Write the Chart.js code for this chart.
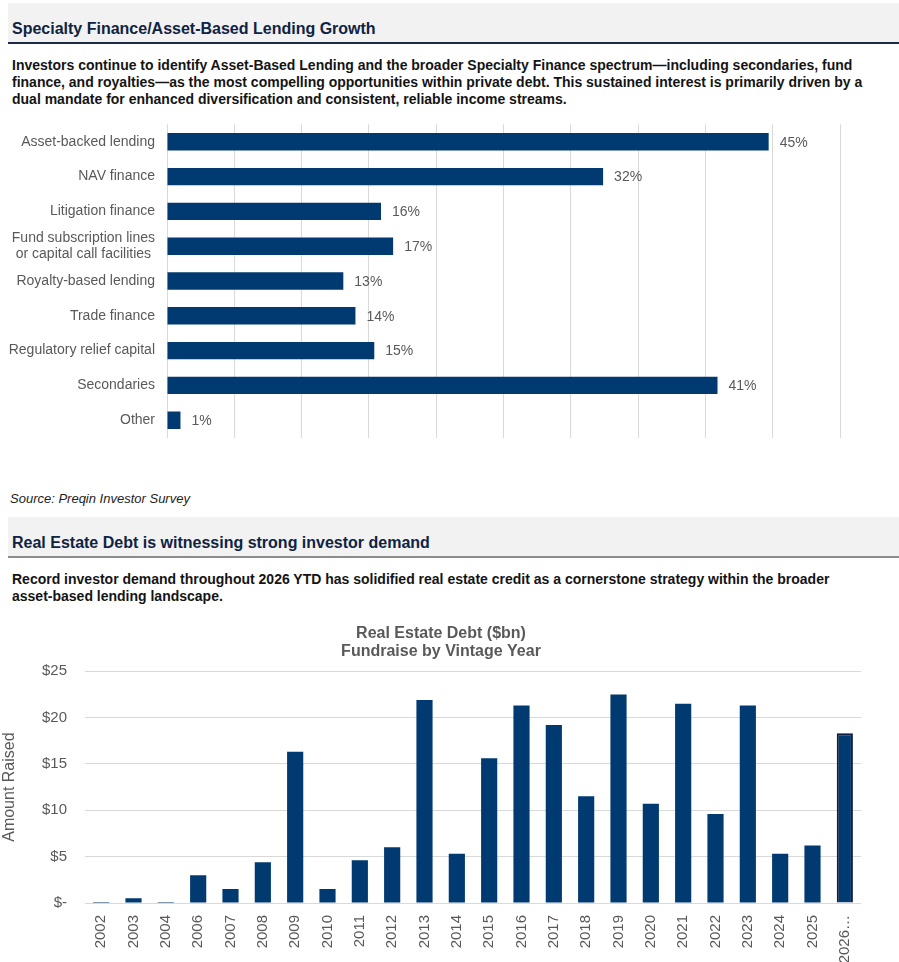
<!DOCTYPE html>
<html>
<head>
<meta charset="utf-8">
<script src="https://cdn.jsdelivr.net/npm/chart.js@4/dist/chart.umd.min.js"></script>
<style>
  body { margin: 0; background: #fff; font-family: 'Liberation Sans', Arial, sans-serif; }
  .page { position: relative; width: 899px; height: 962px; overflow: hidden; }
  .band { position: absolute; left: 8px; width: 891px; background: #f2f2f2; }
  .band h2 { position: absolute; left: 4px; margin: 0; font-size: 16px; line-height: 18px; font-weight: bold; color: #0f2342; white-space: nowrap; }
  .para { position: absolute; left: 12px; font-size: 14px; line-height: 17px; font-weight: bold; color: #141414; white-space: nowrap; }
  .source { position: absolute; left: 10px; top: 491px; font-size: 13px; line-height: 16px; font-style: italic; color: #222; }
  canvas { position: absolute; left: 0; }
</style>
</head>
<body>
<div class="page">
  <div class="band" style="top:3px;height:39px;border-bottom:2px solid #1c2a47;">
    <h2 style="top:17px;">Specialty Finance/Asset-Based Lending Growth</h2>
  </div>
  <div class="para" style="top:57px;">
    Investors continue to identify Asset-Based Lending and the broader Specialty Finance spectrum—including secondaries, fund<br>
    finance, and royalties—as the most compelling opportunities within private debt. This sustained interest is primarily driven by a<br>
    dual mandate for enhanced diversification and consistent, reliable income streams.
  </div>
  <div style="position:absolute;left:0;top:104px;width:899px;height:354px;">
    <canvas id="surveyChart"></canvas>
  </div>
  <div class="source">Source: Preqin Investor Survey</div>
  <div class="band" style="top:517px;height:39px;border-bottom:2px solid #8c8c8c;">
    <h2 style="top:17px;">Real Estate Debt is witnessing strong investor demand</h2>
  </div>
  <div class="para" style="top:571px;">
    Record investor demand throughout 2026 YTD has solidified real estate credit as a cornerstone strategy within the broader<br>
    asset-based lending landscape.
  </div>
  <div style="position:absolute;left:0;top:612px;width:882px;height:350px;">
    <canvas id="vintageChart"></canvas>
  </div>
</div>

<script>
const strategies = [
  'Asset-backed lending',
  'NAV finance',
  'Litigation finance',
  ['Fund subscription lines', 'or capital call facilities '],
  'Royalty-based lending',
  'Trade finance',
  'Regulatory relief capital',
  'Secondaries',
  'Other',
];
const strategyShares = [44.7, 32.4, 15.9, 16.8, 13.1, 14.0, 15.4, 40.9, 1.0];

const vintageYears = ['2002', '2003', '2004', '2006', '2007', '2008', '2009', '2010', '2011', '2012', '2013', '2014',
  '2015', '2016', '2017', '2018', '2019', '2020', '2021', '2022', '2023', '2024', '2025', '2026…'];
const amountRaised = [0.1, 0.5, 0.1, 3.0, 1.5, 4.4, 16.3, 1.5, 4.6, 6.0, 21.9, 5.3,
  15.6, 21.3, 19.2, 11.5, 22.5, 10.7, 21.5, 9.6, 21.3, 5.3, 6.2, 18.3];

const NAVY = '#003a70';
const GREY_TEXT = '#595959';
const GRID = '#d9d9d9';
const FONT = "'Liberation Sans', Arial, sans-serif";

Chart.defaults.font.family = FONT;
Chart.defaults.color = GREY_TEXT;
Chart.defaults.animation = false;

// value labels to the right of each horizontal bar
const barValueLabels = {
  id: 'barValueLabels',
  afterDatasetsDraw(chart) {
    const ctx = chart.ctx;
    const meta = chart.getDatasetMeta(0);
    ctx.save();
    ctx.font = `14px ${FONT}`;
    ctx.fillStyle = GREY_TEXT;
    ctx.textAlign = 'left';
    ctx.textBaseline = 'middle';
    meta.data.forEach((bar, i) => {
      ctx.fillText(Math.round(chart.data.datasets[0].data[i]) + '%', bar.x + 11, bar.y + 1);
    });
    ctx.restore();
  },
};

new Chart(document.getElementById('surveyChart'), {
  type: 'bar',
  data: {
    labels: strategies,
    datasets: [{
      data: strategyShares,
      backgroundColor: NAVY,
      barPercentage: 0.5,
      categoryPercentage: 1,
    }],
  },
  options: {
    indexAxis: 'y',
    responsive: true,
    maintainAspectRatio: false,
    layout: { padding: { top: 0, right: 59, bottom: 0, left: 0 } },
    plugins: { legend: { display: false }, tooltip: { enabled: false } },
    scales: {
      x: {
        min: 0,
        max: 50,
        ticks: { display: false, stepSize: 5 },
        grid: { color: GRID, drawTicks: false },
        border: { display: false },
        afterFit: scale => { scale.height = 0; },
      },
      y: {
        grid: { display: false, drawTicks: false },
        border: { display: false },
        ticks: { color: GREY_TEXT, font: { size: 14 }, padding: 12 },
        afterFit: scale => { scale.width = 167; },
      },
    },
  },
  plugins: [barValueLabels],
});

const lastIdx = amountRaised.length - 1;

new Chart(document.getElementById('vintageChart'), {
  type: 'bar',
  data: {
    labels: vintageYears,
    datasets: [{
      data: amountRaised,
      backgroundColor: NAVY,
      borderColor: amountRaised.map((_, i) => (i === lastIdx ? '#0b1f3a' : NAVY)),
      borderWidth: amountRaised.map((_, i) => (i === lastIdx ? 2 : 0)),
      barPercentage: 0.5,
      categoryPercentage: 1,
    }],
  },
  options: {
    responsive: true,
    maintainAspectRatio: false,
    layout: { padding: 0 },
    plugins: {
      legend: { display: false },
      tooltip: { enabled: false },
      title: {
        display: true,
        text: ['Real Estate Debt ($bn)', 'Fundraise by Vintage Year'],
        color: GREY_TEXT,
        font: { size: 16, weight: 'bold', lineHeight: 1.1 },
        padding: { top: 13, bottom: 11 },
      },
    },
    scales: {
      x: {
        grid: { display: false, drawTicks: false },
        border: { display: false },
        ticks: { color: GREY_TEXT, font: { size: 15 }, minRotation: 90, maxRotation: 90, padding: 12, autoSkip: false },
        afterFit: scale => { scale.height = 59; },
      },
      y: {
        min: 0,
        max: 25,
        ticks: {
          stepSize: 5,
          color: GREY_TEXT,
          font: { size: 15 },
          padding: 18,
          callback: v => (v === 0 ? '$-' : '$' + v),
        },
        grid: { color: GRID, drawTicks: false },
        border: { display: false },
        title: { display: true, text: 'Amount Raised', color: GREY_TEXT, font: { size: 16 }, padding: { top: 0, bottom: 0 } },
        afterFit: scale => { scale.width = 85; },
      },
      // empty right-hand gutter so the title centres like the original
      gutter: {
        position: 'right',
        display: true,
        grid: { display: false },
        border: { display: false },
        ticks: { display: false },
        afterFit: scale => { scale.width = 21; },
      },
    },
  },
});
</script>
</body>
</html>
